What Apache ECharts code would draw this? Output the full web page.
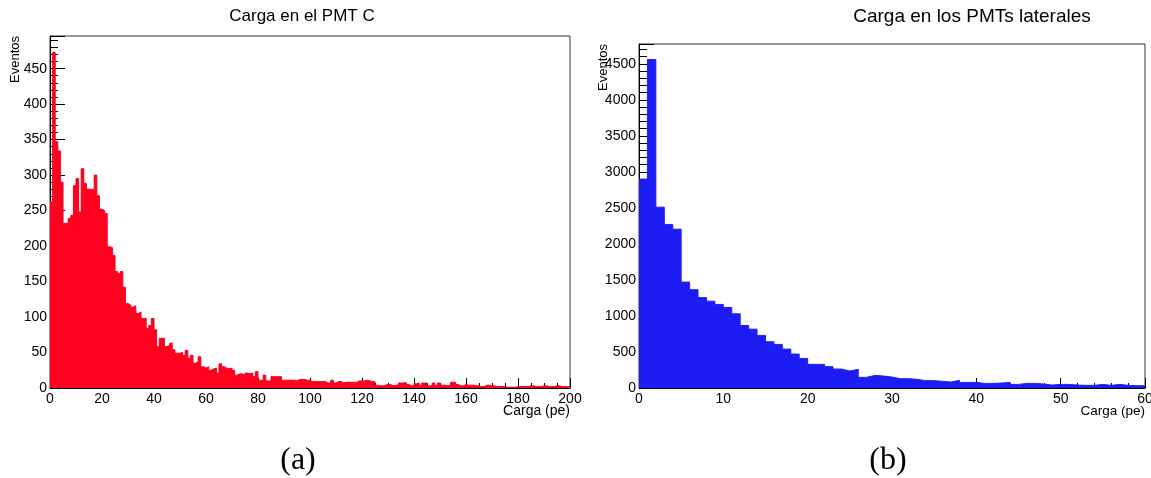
<!DOCTYPE html>
<html><head><meta charset="utf-8">
<script src="https://cdn.jsdelivr.net/npm/echarts@6/dist/echarts.min.js"></script>
<style>html,body{margin:0;padding:0;background:#fff}#c{width:1151px;height:478px}</style>
</head><body><div id="c"></div>
<script>
const leftTitle = 'Carga en el PMT C';
const rightTitle = 'Carga en los PMTs laterales';
const captions = ['(a)', '(b)'];
const xName = 'Carga (pe)';
const yName = 'Eventos';

// Left histogram: 200 bins of width 1 pe (0..200)
const leftCounts = [
  262,473,347,334,290,232,232,239,243,285,
  295,248,309,288,280,280,280,300,271,252,
  250,246,199,198,187,164,161,164,142,119,
  117,114,116,105,107,98,98,84,88,98,
  82,58,70,70,58,60,63,54,49,49,
  50,46,53,42,46,35,37,44,30,28,
  30,25,27,28,21,34,30,28,27,28,
  25,18,20,20,18,21,20,21,16,23,
  11,11,18,10,10,16,16,16,16,11,
  11,11,11,11,10,12,12,12,11,11,
  9,9,9,9,9,9,7,7,11,7,
  9,9,7,8,8,8,8,8,10,10,
  10,11,10,9,9,4,3,3,4,5,
  5,3,4,4,7,7,8,5,3,3,
  6,7,4,7,7,3,3,7,4,7,
  4,4,3,4,8,8,5,3,3,5,
  4,4,4,3,3,2,2,4,4,3,
  3,2,2,2,2,1,1,1,1,2,
  2,2,2,2,3,3,2,2,2,3,
  3,2,2,2,3,3,2,2,2,2
];
// Right histogram: 60 bins of width 1 pe (0..60)
const rightCounts = [
  2900,4560,2510,2270,2205,1470,1365,1255,1205,1160,
  1118,1030,868,817,730,642,605,540,471,411,
  328,328,296,263,236,259,148,175,166,152,
  129,129,120,102,102,92,83,106,78,78,
  64,64,69,78,50,64,64,55,41,50,
  50,41,37,37,50,37,50,37,32,32
];
const leftBinWidth = 1, rightBinWidth = 1;
const leftX = {min: 0, max: 200, interval: 20};
const leftY = {min: 0, max: 496, interval: 50};
const rightX = {min: 0, max: 60, interval: 10};
const rightY = {min: 0, max: 4775, interval: 500};

function stepData(counts, w) {
  const pts = counts.map((v, i) => [i * w, v]);
  pts.push([counts.length * w, counts[counts.length - 1]]);
  return pts;
}

const FONT = 'Liberation Sans';
const labelStyle = {color: '#000', fontFamily: FONT, fontSize: 14, formatter: v => String(v)};

function xAxisCfg(gi, sc, minorSplit, nameSize) {
  return {
    type: 'value', gridIndex: gi, min: sc.min, max: sc.max, interval: sc.interval,
    axisLine: {show: true, onZero: false, lineStyle: {color: '#000', width: 1}},
    axisTick: {show: true, inside: true, length: 10, lineStyle: {color: '#000'}},
    minorTick: {show: true, splitNumber: minorSplit, length: 5, lineStyle: {color: '#000'}},
    splitLine: {show: false},
    axisLabel: Object.assign({margin: 4}, labelStyle),
    name: xName, nameLocation: 'end', nameGap: 0, nameMoveOverlap: false,
    nameTextStyle: {fontFamily: FONT, fontSize: nameSize, color: '#000', align: 'right', verticalAlign: 'top', padding: [16, 0, 0, 0]}
  };
}
function yAxisCfg(gi, sc, pad) {
  return {
    type: 'value', gridIndex: gi, min: sc.min, max: sc.max, interval: sc.interval,
    axisLine: {show: true, onZero: false, lineStyle: {color: '#000', width: 1}},
    axisTick: {show: true, inside: true, length: 15, lineStyle: {color: '#000'}},
    minorTick: {show: true, splitNumber: 5, length: 8, lineStyle: {color: '#000'}},
    splitLine: {show: false},
    axisLabel: Object.assign({margin: 3, showMaxLabel: false}, labelStyle),
    name: yName, nameLocation: 'end', nameRotate: 90, nameGap: 0, nameMoveOverlap: false,
    nameTextStyle: {fontFamily: FONT, fontSize: 13, color: '#000', align: 'right', verticalAlign: 'bottom', padding: [0, 0, pad, 0]}
  };
}

const chart = echarts.init(document.getElementById('c'), null, {renderer: 'canvas'});
chart.setOption({
  animation: false,
  backgroundColor: '#fff',
  title: [
    {text: leftTitle, left: 302, top: 8, padding: 0, textAlign: 'center', textStyle: {fontFamily: FONT, fontSize: 17, fontWeight: 'normal', color: '#000'}},
    {text: rightTitle, left: 972, top: 7, padding: 0, textAlign: 'center', textStyle: {fontFamily: FONT, fontSize: 19, fontWeight: 'normal', color: '#000'}},
    {text: captions[0], left: 298, top: 445, padding: 0, textAlign: 'center', textStyle: {fontFamily: 'Liberation Serif', fontSize: 32, fontWeight: 'normal', color: '#000'}},
    {text: captions[1], left: 888, top: 445, padding: 0, textAlign: 'center', textStyle: {fontFamily: 'Liberation Serif', fontSize: 32, fontWeight: 'normal', color: '#000'}}
  ],
  grid: [
    {left: 50, right: 581, top: 36, bottom: 90, outerBoundsMode: 'none', show: true, borderColor: '#333', borderWidth: 1, backgroundColor: 'transparent'},
    {left: 639, right: 6, top: 44, bottom: 90, outerBoundsMode: 'none', show: true, borderColor: '#333', borderWidth: 1, backgroundColor: 'transparent'}
  ],
  xAxis: [xAxisCfg(0, leftX, 4, 14), xAxisCfg(1, rightX, 5, 13.5)],
  yAxis: [yAxisCfg(0, leftY, 28), yAxisCfg(1, rightY, 29)],
  series: [
    {type: 'line', xAxisIndex: 0, yAxisIndex: 0, step: 'end', symbol: 'none', z: 1,
     data: stepData(leftCounts, leftBinWidth),
     lineStyle: {color: '#f5001e', width: 1}, areaStyle: {color: '#ff001e', opacity: 1}},
    {type: 'line', xAxisIndex: 1, yAxisIndex: 1, step: 'end', symbol: 'none', z: 1,
     data: stepData(rightCounts, rightBinWidth),
     lineStyle: {color: '#2020f2', width: 1}, areaStyle: {color: '#1c1cf5', opacity: 1}}
  ]
});
</script></body></html>
